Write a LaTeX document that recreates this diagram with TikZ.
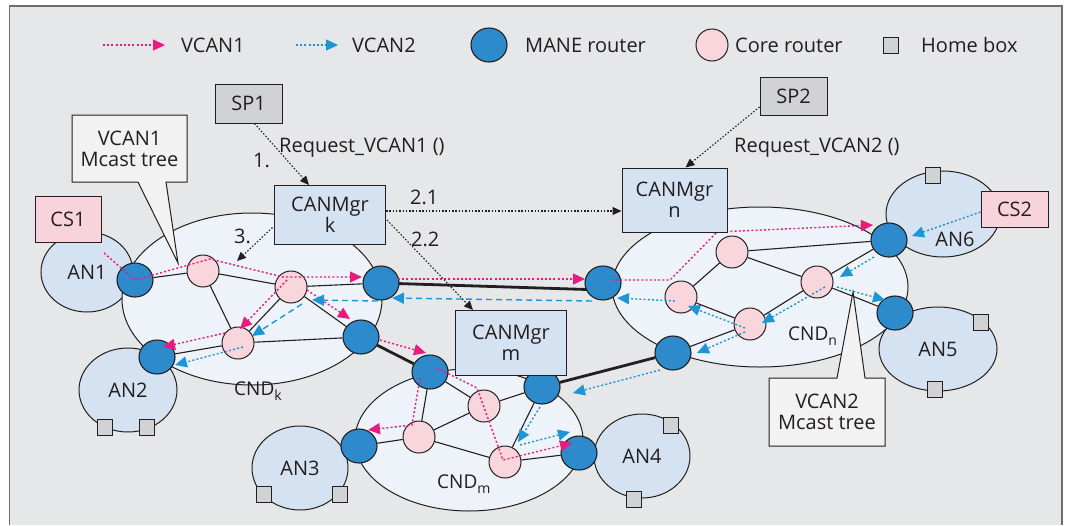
\documentclass[tikz,border=0pt]{standalone}
\usepackage{fontspec}
\setmainfont{Open Sans}
\usetikzlibrary{shapes.geometric,arrows.meta,calc}
\pgfdeclarelayer{back}
\pgfdeclarelayer{links}
\pgfsetlayers{back,links,main}

\definecolor{ink}{HTML}{231F20}
\definecolor{panel}{HTML}{E6E7E8}
\definecolor{framec}{HTML}{6D6E71}
\definecolor{maneblue}{HTML}{2E8BCB}
\definecolor{corepink}{HTML}{F9D5DC}
\definecolor{anfill}{HTML}{D5E2F1}
\definecolor{cndfill}{HTML}{EEF3FA}
\definecolor{hbgray}{HTML}{D1D2D4}
\definecolor{cspink}{HTML}{F8D3DB}
\definecolor{callfill}{HTML}{F2F2F3}
\definecolor{vone}{HTML}{EA1A7F}
\definecolor{vtwo}{HTML}{1D96D6}

\tikzset{
  mane/.style={ellipse, draw=ink, fill=maneblue, line width=1.1pt,
    minimum width=36pt, minimum height=34pt, inner sep=0pt},
  core/.style={circle, draw=ink, fill=corepink, line width=1pt,
    minimum size=32pt, inner sep=0pt},
  hbox/.style={rectangle, draw=ink, fill=hbgray, line width=0.9pt,
    minimum width=15pt, minimum height=16pt, inner sep=0pt},
  anet/.style={ellipse, draw=ink, fill=anfill, line width=1pt, inner sep=0pt},
  cnd/.style={ellipse, draw=ink, fill=cndfill, line width=1pt, inner sep=0pt},
  panelbox/.style={rectangle, draw=ink, line width=1pt, inner sep=0pt, align=center},
  mgr/.style={panelbox, fill=anfill},
  spbox/.style={panelbox, fill=hbgray},
  csbox/.style={panelbox, fill=cspink},
  lbl/.style={inner sep=0pt},
  link/.style={draw=ink, line width=1.1pt},
  trunk/.style={draw=ink, line width=2.8pt},
  vonepath/.style={draw=vone, line width=1.4pt, dash pattern=on 2pt off 2.2pt},
  vtwopath/.style={draw=vtwo, line width=1.4pt, dash pattern=on 2pt off 2.2pt},
  vtwodash/.style={draw=vtwo, line width=1.4pt, dash pattern=on 6pt off 4pt},
  tipv/.style={-{Triangle[length=12pt,width=11pt]}},
  signal/.style={draw=ink, line width=1.1pt, dash pattern=on 1.5pt off 1.8pt,
    -{Triangle[length=9pt,width=8pt]}},
  callout/.style={draw=ink, fill=callfill, line width=1pt}
}

\begin{document}
\begin{tikzpicture}[x=1pt,y=-1pt,font=\fontsize{20}{21}\selectfont,text=ink]
\useasboundingbox (0,0) rectangle (1075,525);

% ---------- panel, access networks and core domains ----------
\begin{pgfonlayer}{back}
  \fill[panel] (9.5,6) rectangle (1062,525);
  \draw[framec,line width=1.3pt] (9.5,525) -- (9.5,6) -- (1062,6) -- (1062,525);

  \node[anet,minimum width=92pt,minimum height=80pt] (AN1) at (87,272) {AN1};
  \node[anet,minimum width=98pt,minimum height=84pt] (AN2) at (128,390) {AN2};
  \node[anet,minimum width=96pt,minimum height=84pt] (AN3) at (300,468) {AN3};
  \node[anet,minimum width=96pt,minimum height=84pt] (AN4) at (642,456) {AN4};
  \node[anet,minimum width=118pt,minimum height=84pt] (AN5) at (938,349) {AN5};
  \node[anet,minimum width=114pt,minimum height=86pt] (AN6) at (943,214) {};

  \node[cnd,minimum width=260pt,minimum height=172pt] (CNDk) at (252,299) {};
  \node[cnd,minimum width=228pt,minimum height=142pt] (CNDm) at (469,440) {};
  \node[cnd,minimum width=296pt,minimum height=160pt] (CNDn) at (760,287) {};
\end{pgfonlayer}

% ---------- routers ----------
\node[mane] (M1)  at (135,280) {};
\node[mane] (M2)  at (157,357) {};
\node[mane] (M3)  at (381,283) {};
\node[mane] (M4)  at (361,337) {};
\node[mane] (M5)  at (430,372) {};
\node[mane] (M6)  at (359,446) {};
\node[mane] (M7)  at (542,387) {};
\node[mane] (M8)  at (579,453) {};
\node[mane] (M9)  at (603,283) {};
\node[mane] (M10) at (673,353) {};
\node[mane] (M11) at (889,240) {};
\node[mane] (M12) at (895,313) {};

\node[core] (C1)  at (203,271) {};
\node[core] (C2)  at (291,287) {};
\node[core] (C3)  at (238,343) {};
\node[core] (C4)  at (484,406) {};
\node[core] (C5)  at (419,437) {};
\node[core] (C6)  at (505,462) {};
\node[core] (C7)  at (732,252) {};
\node[core] (C8)  at (681,297) {};
\node[core] (C9)  at (750,324) {};
\node[core] (C10) at (817,282) {};

% ---------- home boxes ----------
\node[hbox] (H2a) at (105,427) {};
\node[hbox] (H2b) at (146.5,427) {};
\node[hbox] (H3a) at (263.5,494.5) {};
\node[hbox] (H3b) at (339.5,494.5) {};
\node[hbox] (H4a) at (670.5,425) {};
\node[hbox] (H4b) at (634,499) {};
\node[hbox] (H5a) at (980.5,322) {};
\node[hbox] (H5b) at (935,389) {};
\node[hbox] (H6a) at (933,175) {};

\node[lbl] (AN6t) at (955,239) {AN6};

% ---------- physical links ----------
\begin{pgfonlayer}{links}
  \draw[link] (M1) -- (C1);  \draw[link] (C1) -- (C2);  \draw[link] (C1) -- (C3);
  \draw[link] (C2) -- (M3);  \draw[link] (C2) -- (C3);  \draw[link] (C2) -- (M4);
  \draw[link] (C3) -- (M2);  \draw[link] (C3) -- (M4);
  \draw[link] (M5) -- (C4);  \draw[link] (M5) -- (C5);  \draw[link] (M6) -- (C5);
  \draw[link] (C5) -- (C4);  \draw[link] (C5) -- (C6);  \draw[link] (C4) -- (M7);
  \draw[link] (M7) -- (C6);  \draw[link] (C6) -- (M8);
  \draw[link] (C8) -- (C7);  \draw[link] (C7) -- (M11); \draw[link] (C7) -- (C10);
  \draw[link] (C8) -- (C9);  \draw[link] (C9) -- (C10); \draw[link] (C9) -- (M10);
  \draw[link] (C10) -- (M11); \draw[link] (C10) -- (M12);
  \draw[trunk] (M3.center) -- ($(M9.center)+(0,7)$);
  \draw[trunk] (M4) -- (M5);
  \draw[trunk] (M7) -- (M10);
\end{pgfonlayer}

% ---------- VCAN1 multicast tree ----------
\draw[vonepath,tipv] ($(AN1.center)+(17,-19)$) -- (M1.center) -- ($(C1.center)+(7,-12)$)
  -- ($(C2.center)+(-8,-10)$) -- ($(M3.center)+(-19,-6)$);
\draw[vonepath,tipv] ($(M3.center)+(17,-4)$) -- ($(M9.center)+(-18,-4)$);
\draw[vonepath,tipv] ($(M9.center)+(9,-3)$) -- ($(C8.center)+(-11,-17)$)
  -- ($(C7.center)+(-15,-20)$) -- ($(M11.center)+(-16,-15)$);
\draw[vonepath,tipv] ($(C2.center)+(-4,-7)$) -- ($(C3.center)+(2,-14)$);
\draw[vonepath,tipv] ($(C3.center)+(-13,-10)$) -- ($(M2.center)+(6,-10)$);
\draw[vonepath,tipv] ($(C2.center)+(16,3)$) -- ($(M4.center)+(-11,-18)$);
\draw[vonepath,tipv] ($(M4.center)+(19,3)$) -- ($(M5.center)+(-4,-19)$);
\draw[vonepath,tipv] ($(M5.center)+(-10,6)$) -- ($(C5.center)+(-7,-12)$)
  -- ($(M6.center)+(9,-16)$);
\draw[vonepath,tipv] ($(M5.center)+(7,-4)$) -- ($(C4.center)+(-7,-18)$)
  -- ($(C6.center)+(-2,-2)$) -- ($(M8.center)+(-7,-10)$);

% ---------- VCAN2 multicast tree ----------
\draw[vtwopath,tipv] ($(M11.center)+(-15,17)$) -- ($(C10.center)+(23,-5)$);
\draw[vtwopath,tipv] ($(C10.center)+(20,5)$) -- ($(M12.center)+(-10,-13)$);
\draw[vtwopath,tipv] ($(C10.center)+(8,5)$) -- ($(C9.center)+(12,-1)$);
\draw[vtwopath,tipv] ($(C9.center)+(-5,4)$) -- ($(C8.center)+(7,9)$);
\draw[vtwopath,tipv] ($(C8.center)+(-6,4)$) -- ($(M9.center)+(14,15)$);
\draw[vtwopath,tipv] ($(C9.center)+(-5,8)$) -- ($(M10.center)+(24,0)$);
\draw[vtwopath,tipv] ($(M10.center)+(-13,17)$) -- ($(M7.center)+(31,6)$);
\draw[vtwopath,tipv] ($(M7.center)+(-2,20)$) -- ($(C6.center)+(13,-20)$);
\draw[vtwopath,tipv] ($(C6.center)+(15,-17)$) -- ($(M8.center)+(-9,-21)$);
\draw[vtwodash,tipv] ($(M9.center)+(-11,18)$) -- ($(M3.center)+(11,15)$);
\draw[vtwodash,tipv] ($(M3.center)+(-3,18)$) -- ($(C2.center)+(21,13)$);
\draw[vtwodash,tipv] ($(C2.center)+(11,17)$) -- ($(C3.center)+(14,-7)$);
\draw[vtwopath,tipv] ($(C3.center)+(5,4)$) -- ($(M2.center)+(18,8)$);

% ---------- management boxes ----------
\node[spbox,minimum width=67pt,minimum height=39pt] (SP1) at (248.5,103.5) {SP1};
\node[spbox,minimum width=67pt,minimum height=38pt] (SP2) at (793.5,96) {SP2};
\node[csbox,minimum width=66pt,minimum height=46pt] (CS1) at (68,219) {CS1};
\node[csbox,minimum width=67pt,minimum height=36pt] (CS2) at (1014.5,209) {CS2};
\node[mgr,minimum width=111pt,minimum height=59pt] (Mk) at (330,215) {CANMgr\\k};
\node[mgr,minimum width=105pt,minimum height=64pt] (Mn) at (674.5,200) {CANMgr\\n};
\node[mgr,minimum width=111pt,minimum height=65pt] (Mm) at (511,343) {CANMgr\\m};

\draw[vtwopath,tipv] ($(CS2.center)+(-34,3)$) -- ($(M11.center)+(23,-4)$);

% ---------- signalling ----------
\coordinate (tree1) at (237,261);
\draw[signal] ($(SP1.south)+(6,0)$) -- ($(Mk.north)+(-21,0)$);
\draw[signal] ($(Mk.east)+(0,-4)$) -- ($(Mn.west)+(0,11)$);
\draw[signal] ($(Mk.east)+(1,5)$) -- ($(Mm.north)+(-38,0)$);
\draw[signal] ($(Mk.south west)+(-1.5,-17.5)$) -- (tree1);
\draw[signal] ($(SP2.west)+(0,11)$) -- ($(Mn.north)+(11,0)$);

\node[lbl,anchor=base west] (q1) at (279,152) {Request\_VCAN1 ()};
\node[lbl,anchor=base west] (q2) at (734,152) {Request\_VCAN2 ()};
\node[lbl,anchor=base west] (s1) at (253,167) {1.};
\node[lbl,anchor=base west] (s21) at (410,204) {2.1};
\node[lbl,anchor=base west] (s22) at (411,246) {2.2};
\node[lbl,anchor=base west] (s3) at (234,243) {3.};

% ---------- domain names ----------
\node[lbl,anchor=base west,font=\fontsize{19}{19}\selectfont] (Lk) at (234,395)
  {CND\raisebox{-5pt}{\fontsize{14}{14}\selectfont k}};
\node[lbl,anchor=base west,font=\fontsize{19}{19}\selectfont] (Lm) at (437,488)
  {CND\raisebox{-5pt}{\fontsize{14}{14}\selectfont m}};
\node[lbl,anchor=base west,font=\fontsize{19}{19}\selectfont] (Ln) at (788,340)
  {CND\raisebox{-5pt}{\fontsize{14}{14}\selectfont n}};

% ---------- multicast tree call-outs ----------
\filldraw[callout] (72,115) -- (187,115) -- (187,182) -- (166,182) -- (178,263)
  -- (138,182) -- (72,182) -- cycle;
\node[lbl,align=center] (T1) at (129.5,148.5) {VCAN1\\Mcast tree};
\filldraw[callout] (769,378) -- (837,378) -- (853,292) -- (865,378) -- (885,378)
  -- (885,446) -- (769,446) -- cycle;
\node[lbl,align=center] (T2) at (827,412) {VCAN2\\Mcast tree};

% ---------- legend ----------
\coordinate (la1) at (103,45); \coordinate (lb1) at (165,45);
\coordinate (la2) at (296,45); \coordinate (lb2) at (338,45);
\draw[vonepath,tipv] (la1) -- (lb1);
\draw[vtwopath,tipv] (la2) -- (lb2);
\node[lbl,anchor=base west] (lg1) at (181,52) {VCAN1};
\node[lbl,anchor=base west] (lg2) at (352,52) {VCAN2};
\node[mane] (lgm) at (489,45) {};
\node[lbl,anchor=base west] (lg3) at (525,52) {MANE router};
\node[core] (lgc) at (712,45) {};
\node[lbl,anchor=base west] (lg4) at (735,52) {Core router};
\node[hbox] (lgh) at (891,45) {};
\node[lbl,anchor=base west] (lg5) at (921,52) {Home box};
\end{tikzpicture}
\end{document}
